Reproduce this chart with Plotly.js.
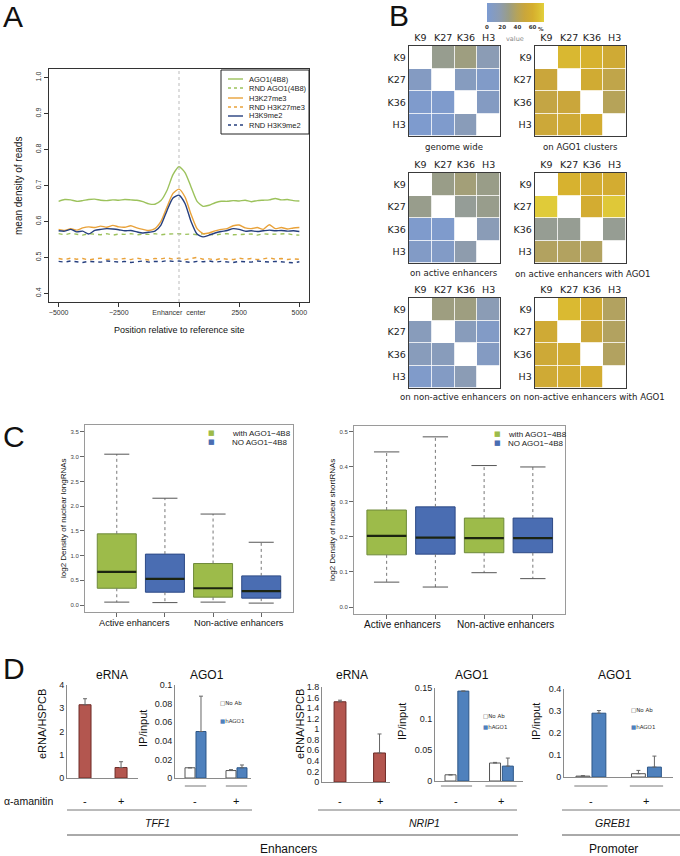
<!DOCTYPE html>
<html><head><meta charset="utf-8">
<script src="https://cdn.plot.ly/plotly-3.0.1.min.js"></script>
<style>html,body{margin:0;padding:0;background:#fff}#chart{width:680px;height:856px}</style>
</head><body><div id="chart"></div>
<script>
// ---------------- DATA ----------------
// Panel A : mean density of reads around enhancer centre
const posA=[-5000,-4750,-4500,-4250,-4000,-3750,-3500,-3250,-3000,-2750,-2500,-2250,-2000,-1750,-1500,-1250,-1000,-750,-500,-250,0,250,500,750,1000,1250,1500,1750,2000,2250,2500,2750,3000,3250,3500,3750,4000,4250,4500,4750,5000];
const ago1=[0.656,0.661,0.660,0.656,0.658,0.661,0.662,0.659,0.658,0.660,0.659,0.661,0.660,0.659,0.655,0.649,0.648,0.658,0.686,0.730,0.752,0.736,0.696,0.656,0.642,0.645,0.652,0.656,0.656,0.658,0.657,0.659,0.655,0.658,0.659,0.660,0.664,0.660,0.661,0.658,0.657];
const rndAgo1=[0.566,0.563,0.567,0.565,0.562,0.566,0.564,0.563,0.566,0.562,0.565,0.564,0.566,0.563,0.565,0.564,0.566,0.563,0.565,0.566,0.566,0.564,0.565,0.563,0.566,0.564,0.562,0.565,0.566,0.563,0.564,0.566,0.565,0.562,0.566,0.564,0.565,0.567,0.566,0.563,0.562];
const h3k27=[0.578,0.575,0.580,0.576,0.582,0.585,0.583,0.587,0.584,0.589,0.585,0.584,0.588,0.582,0.578,0.575,0.580,0.600,0.640,0.678,0.690,0.668,0.620,0.580,0.566,0.568,0.574,0.578,0.580,0.588,0.590,0.582,0.580,0.583,0.578,0.591,0.580,0.583,0.579,0.582,0.583];
const rndK27=[0.497,0.494,0.498,0.495,0.497,0.493,0.496,0.498,0.494,0.496,0.495,0.497,0.494,0.498,0.495,0.493,0.497,0.496,0.499,0.495,0.498,0.494,0.497,0.500,0.495,0.496,0.493,0.497,0.495,0.494,0.498,0.495,0.497,0.494,0.496,0.499,0.495,0.497,0.494,0.496,0.495];
const h3k9=[0.574,0.573,0.578,0.571,0.573,0.565,0.575,0.578,0.580,0.579,0.577,0.574,0.575,0.571,0.568,0.570,0.573,0.590,0.630,0.665,0.673,0.650,0.600,0.565,0.557,0.562,0.568,0.572,0.575,0.580,0.578,0.573,0.574,0.572,0.574,0.576,0.574,0.575,0.573,0.574,0.572];
const rndK9=[0.489,0.487,0.490,0.488,0.486,0.489,0.488,0.487,0.490,0.488,0.487,0.489,0.486,0.488,0.490,0.487,0.489,0.488,0.491,0.489,0.490,0.488,0.486,0.489,0.488,0.490,0.487,0.489,0.488,0.486,0.489,0.488,0.487,0.490,0.488,0.487,0.489,0.488,0.487,0.485,0.488];
const legendA=['AGO1(4B8)','RND AGO1(4B8)','H3K27me3','RND H3K27me3','H3K9me2','RND H3K9me2'];
const xTicksA=[-5000,-2500,0,2500,5000];
const xTickTextA=['\u22125000','\u22122500','Enhancer  center','2500','5000'];
const yTicksA=[0.4,0.5,0.6,0.7,0.8,0.9,1.0];
const yTickTextA=['0.4','0.5','0.6','0.7','0.8','0.9','1.0'];

// Panel B : overlap (%) heatmaps, diagonal empty
const hmLabels=['K9','K27','K36','H3'];
const hmGenome=[[null,26,30,15],[8,null,10,5],[3,3,null,8],[2,3,13,null]];
const hmAgo1Clusters=[[null,65,62,55],[50,null,56,45],[47,50,null,40],[52,55,58,null]];
const hmActive=[[null,28,32,28],[27,null,24,27],[3,3,null,14],[6,6,18,null]];
const hmActiveAgo1=[[null,62,58,58],[73,null,58,72],[25,25,null,25],[38,38,38,null]];
const hmNonActive=[[null,30,30,15],[12,null,12,6],[12,12,null,8],[4,7,15,null]];
const hmNonActiveAgo1=[[null,66,58,38],[55,null,52,38],[53,56,null,38],[55,57,58,null]];
const hmTitles=['genome wide','on AGO1 clusters','on active enhancers','on active enhancers with AGO1','on non-active enhancers','on non-active enhancers with AGO1'];
const cbTicks=[0,20,40,60];

// Panel C : box statistics
const cPos=[1,2,3,4];
const cGroups=['Active enhancers','Non-active enhancers'];
const cLegend=['with AGO1\u22124B8','NO AGO1\u22124B8'];
const longLo=[0.06,0.05,0.06,0.04];
const longQ1=[0.34,0.26,0.16,0.14];
const longMed=[0.67,0.53,0.34,0.28];
const longQ3=[1.44,1.03,0.84,0.59];
const longHi=[3.05,2.16,1.84,1.27];
const shortLo=[0.071,0.057,0.098,0.081];
const shortQ1=[0.149,0.151,0.155,0.155];
const shortMed=[0.203,0.198,0.197,0.197];
const shortQ3=[0.277,0.286,0.254,0.254];
const shortHi=[0.443,0.486,0.404,0.400];

// Panel D : qPCR
const dGroups=['-','+'];
const tffERNA=[3.15,0.45], tffERNAerr=[0.26,0.25];
const tffNoAb=[0.011,0.008], tffNoAbErr=[0,0.001];
const tffHAGO1=[0.050,0.011], tffHAGO1Err=[0.038,0.003];
const nripERNA=[1.52,0.55], nripERNAerr=[0.03,0.36];
const nripNoAb=[0.010,0.029], nripNoAbErr=[0,0.001];
const nripHAGO1=[0.145,0.024], nripHAGO1Err=[0,0.013];
const grebNoAb=[0.004,0.015], grebNoAbErr=[0.002,0.015];
const grebHAGO1=[0.290,0.045], grebHAGO1Err=[0.012,0.050];
const dLegend=['No Ab','hAGO1'];

// ---------------- HELPERS ----------------
const W=680,H=856;
const px=x=>x/W, py=y=>1-y/H;
const dx=(a,b)=>[a/W,b/W], dy=(t,b)=>[1-b/H,1-t/H];
const SANS='Liberation Sans, Arial, Helvetica, sans-serif';
const DJ='DejaVu Sans, sans-serif';
const traces=[];
const layout={width:W,height:H,margin:{l:0,r:0,t:0,b:0},paper_bgcolor:'#fff',plot_bgcolor:'#fff',
  showlegend:false,barmode:'overlay',font:{family:SANS,color:'#222'},annotations:[],shapes:[]};
function ann(text,x,y,size,o={}){
  layout.annotations.push(Object.assign({text:text,x:px(x),y:py(y),xref:'paper',yref:'paper',showarrow:false,
    font:{family:o.family||SANS,size:size,color:o.color||'#111',style:o.style||'normal',weight:o.weight||'normal'},
    xanchor:o.xanchor||'center',yanchor:o.yanchor||'middle',textangle:o.angle||0,borderpad:0},o.extra||{}));
}
function seg(x0,y0,x1,y1,color,width,dash){
  layout.shapes.push({type:'line',xref:'paper',yref:'paper',x0:px(x0),y0:py(y0),x1:px(x1),y1:py(y1),line:{color:color,width:width,dash:dash||'solid'}});
}
const noGrid={showgrid:false,zeroline:false,fixedrange:true};

// ---------------- PANEL A ----------------
const cGreen='#9cc25c', cOrange='#e9a23a', cNavy='#263f7e';
const seriesA=[
  {y:rndAgo1,c:cGreen,d:'4px,4px'},{y:rndK27,c:cOrange,d:'4px,4px'},{y:rndK9,c:cNavy,d:'4px,4px'},
  {y:ago1,c:cGreen,d:'solid'},{y:h3k27,c:cOrange,d:'solid'},{y:h3k9,c:cNavy,d:'solid'}];
seriesA.forEach(s=>traces.push({type:'scatter',mode:'lines',x:posA,y:s.y,xaxis:'x',yaxis:'y',hoverinfo:'skip',
  line:{color:s.c,width:1.4,dash:s.d,shape:s.d==='solid'?'spline':'linear',smoothing:0.6}}));
layout.xaxis=Object.assign({domain:dx(49,309),anchor:'y',range:[-5400,5400],tickvals:xTicksA,ticktext:xTickTextA,
  ticks:'outside',ticklen:4,tickcolor:'#333',showline:true,mirror:true,linecolor:'#333',linewidth:1,
  tickfont:{size:7,color:'#333'}},noGrid);
layout.yaxis=Object.assign({domain:dy(69,302),anchor:'x',range:[0.376,1.024],tickvals:yTicksA,ticktext:yTickTextA,tickangle:-90,
  ticks:'outside',ticklen:4,tickcolor:'#333',showline:true,mirror:true,linecolor:'#333',linewidth:1,
  tickfont:{size:7,color:'#333'}},noGrid);
layout.shapes.push({type:'line',xref:'x',yref:'y domain',x0:0,x1:0,y0:0,y1:1,line:{color:'#bbb',width:1,dash:'dot'}});
ann('A',2,16,30,{xanchor:'left'});
ann('mean density of reads',18,186,10,{angle:-90});
ann('Position relative to reference site',179,330,9);
// legend A
layout.shapes.push({type:'rect',xref:'paper',yref:'paper',x0:px(221),x1:px(309),y0:py(134),y1:py(70),line:{color:'#222',width:1},fillcolor:'#fff'});
const legColA=[cGreen,cGreen,cOrange,cOrange,cNavy,cNavy];
const legYA=[79,88,98,107,116,125];
legendA.forEach((t,i)=>{
  seg(228,legYA[i],243,legYA[i],legColA[i],1.4,i%2?'3px,3px':'solid');
  ann(t,248,legYA[i],7.5,{xanchor:'left',color:'#222'});
});

// ---------------- PANEL B ----------------
const hmPos=[[409,46],[535,46],[409,173],[535,173],[409,298],[535,298]];
const hmTitlePos=[[454,147],[580,147],[454,273],[583,274],[453,397],[587,397]];
[hmGenome,hmAgo1Clusters,hmActive,hmActiveAgo1,hmNonActive,hmNonActiveAgo1].forEach((z,i)=>{
  const n=i+2, p=hmPos[i];
  traces.push({type:'heatmap',z:z,x:hmLabels,y:hmLabels,coloraxis:'coloraxis',xgap:0.8,ygap:0.8,
    xaxis:'x'+n,yaxis:'y'+n,hoverinfo:'skip'});
  const ax={showline:true,mirror:true,linecolor:'#3a3a3a',linewidth:1.3,ticks:'',
    tickfont:{family:DJ,size:9.5,color:'#222'}};
  layout['xaxis'+n]=Object.assign({domain:dx(p[0],p[0]+91),anchor:'y'+n,side:'top'},ax,noGrid);
  layout['yaxis'+n]=Object.assign({domain:dy(p[1],p[1]+90),anchor:'x'+n,autorange:'reversed'},ax,noGrid);
  ann(hmTitles[i],hmTitlePos[i][0],hmTitlePos[i][1],8.6,{family:DJ,color:'#222'});
});
layout.coloraxis={cmin:0,cmax:75,
  colorscale:[[0,'#7c9bd2'],[0.22,'#8c9cb2'],[0.38,'#9a9d86'],[0.52,'#b4a35c'],[0.66,'#c9a63c'],[0.8,'#d5ae2e'],[0.9,'#dbbd32'],[1,'#e2d03c']],
  colorbar:{orientation:'h',x:px(515.5),xanchor:'center',y:py(3),yanchor:'top',len:57,lenmode:'pixels',
    thickness:19,thicknessmode:'pixels',outlinewidth:0,tickvals:cbTicks,ticks:'',xpad:0,ypad:0,
    tickfont:{family:DJ,size:5.5,color:'#333',weight:'bold'}}};
ann('%',541,29,5.5,{family:DJ,weight:'bold',color:'#333'});
ann('value',515,39,6.5,{family:DJ,color:'#888'});
ann('B',388,15,30,{xanchor:'left'});

// ---------------- PANEL C ----------------
const cFill=['#9dbb4a','#4a6db2','#9dbb4a','#4a6db2'];
const cEdge=['#6e8a3a','#2e4a86','#6e8a3a','#2e4a86'];
function boxSet(xa,ya,lo,q1,med,q3,hi){
  traces.push({type:'bar',x:cPos,y:q3.map((v,i)=>v-q1[i]),base:q1,width:0.81,xaxis:xa,yaxis:ya,hoverinfo:'skip',
    marker:{color:cFill,line:{color:cEdge,width:1}}});
  const wx=[],wy=[],kx=[],ky=[],mx=[],my=[];
  cPos.forEach((p,i)=>{
    wx.push(p,p,null,p,p,null); wy.push(q3[i],hi[i],null,q1[i],lo[i],null);
    kx.push(p-0.26,p+0.26,null,p-0.26,p+0.26,null); ky.push(hi[i],hi[i],null,lo[i],lo[i],null);
    mx.push(p-0.405,p+0.405,null); my.push(med[i],med[i],null);
  });
  traces.push({type:'scatter',mode:'lines',x:wx,y:wy,xaxis:xa,yaxis:ya,hoverinfo:'skip',line:{color:'#777',width:1,dash:'dot'}});
  traces.push({type:'scatter',mode:'lines',x:kx,y:ky,xaxis:xa,yaxis:ya,hoverinfo:'skip',line:{color:'#555',width:1}});
  traces.push({type:'scatter',mode:'lines',x:mx,y:my,xaxis:xa,yaxis:ya,hoverinfo:'skip',line:{color:'#1c2410',width:2.2}});
}
boxSet('x8','y8',longLo,longQ1,longMed,longQ3,longHi);
boxSet('x9','y9',shortLo,shortQ1,shortMed,shortQ3,shortHi);
const cAx={ticks:'outside',ticklen:4,tickcolor:'#666',showline:true,mirror:true,linecolor:'#9a9a9a',linewidth:1,
  tickfont:{size:6,color:'#444'}};
layout.xaxis8=Object.assign({domain:dx(85,293),anchor:'y8',range:[0.34,4.66],tickvals:cPos,ticktext:['','','',''],showticklabels:false},cAx,noGrid);
layout.yaxis8=Object.assign({domain:dy(425,612),anchor:'x8',range:[-0.14,3.64],tickvals:[0,0.5,1,1.5,2,2.5,3,3.5],tickformat:'.1f'},cAx,noGrid);
layout.xaxis9=Object.assign({domain:dx(354,565),anchor:'y9',range:[0.33,4.66],tickvals:cPos,ticktext:['','','',''],showticklabels:false},cAx,noGrid);
layout.yaxis9=Object.assign({domain:dy(426,614),anchor:'x9',range:[-0.02,0.517],tickvals:[0,0.1,0.2,0.3,0.4,0.5],tickformat:'.1f'},cAx,noGrid);
ann(cGroups[0],134,623,9.2); ann(cGroups[1],239,623,9.2);
ann(cGroups[0],402,624,10); ann(cGroups[1],505,624,10);
ann('log2 Density of nuclear longRNAs',63,518,8,{angle:-90});
ann('log2 Density of nuclear shortRNAs',332,520,8,{angle:-90});
// legends C
[[211,231,433],[498,507,434]].forEach(L=>{
  cLegend.forEach((t,i)=>{
    ann('<span style="color:'+cFill[i]+'">\u25A0</span>',L[0],L[2]+i*9,7,{family:DJ});
    ann(t,L[1],L[2]+i*9,8,{xanchor:'left',color:'#222'});
  });
});
ann('C',2,436,30,{xanchor:'left'});

// ---------------- PANEL D ----------------
const dX=dGroups.map((g,i)=>i+1);
const red='#b3564f', redE='#6d2a26', blue='#4f81bd', blueE='#2c5687';
function errY(a){return {type:'data',symmetric:false,array:a,arrayminus:a.map(()=>0),color:'#666',thickness:1,width:2};}
function dBar(xa,ya,y,err,color,edge,w,off){
  const t={type:'bar',x:dX,y:y,width:w,xaxis:xa,yaxis:ya,hoverinfo:'skip',error_y:errY(err),
    marker:{color:color,line:{color:edge,width:1}}};
  if(off!==undefined) t.offset=off;
  traces.push(t);
}
dBar('x10','y10',tffERNA,tffERNAerr,red,redE,0.333);
dBar('x11','y11',tffNoAb,tffNoAbErr,'#fff','#555',0.244,-0.256);
dBar('x11','y11',tffHAGO1,tffHAGO1Err,blue,blueE,0.244,0.012);
dBar('x12','y12',nripERNA,nripERNAerr,red,redE,0.30);
dBar('x13','y13',nripNoAb,nripNoAbErr,'#fff','#555',0.247,-0.258);
dBar('x13','y13',nripHAGO1,nripHAGO1Err,blue,blueE,0.247,0.03);
dBar('x14','y14',grebNoAb,grebNoAbErr,'#fff','#555',0.25,-0.27);
dBar('x14','y14',grebHAGO1,grebHAGO1Err,blue,blueE,0.25,0.018);
const dXAx={showline:true,linecolor:'#8a8a8a',linewidth:1,showticklabels:false,ticks:''};
const dYAx={showline:true,linecolor:'#8a8a8a',linewidth:1,ticks:'',tickfont:{size:9,color:'#222'}};
const dSpec=[
  [10,67,138,685,778,[0.5,2.47],[0,4],1],
  [11,175,251,685,778,[0.5,2.354],[0,0.1],0.02],
  [12,322,390,687,782,[0.544,2.265],[0,1.8],0.2],
  [13,435,523,688,781,[0.517,2.494],[0,0.15],0.05],
  [14,564,673,689,777,[0.514,2.478],[0,0.4],0.1]];
dSpec.forEach(s=>{
  const n=s[0];
  layout['xaxis'+n]=Object.assign({domain:dx(s[1],s[2]),anchor:'y'+n,range:s[5]},dXAx,noGrid);
  layout['yaxis'+n]=Object.assign({domain:dy(s[3],s[4]),anchor:'x'+n,range:s[6],dtick:s[7],tick0:0},dYAx,noGrid);
  dX.forEach((x,i)=>layout.annotations.push({text:dGroups[i]==='-'?'-':'+',x:x,y:py(801),xref:'x'+n,yref:'paper',
    showarrow:false,font:{family:SANS,size:11,color:'#111'},xanchor:'center',yanchor:'middle'}));
});
// group underlines in AGO1 charts
[[11,0.26],[13,0.35],[14,0.3]].forEach(g=>{
  dX.forEach(x=>layout.shapes.push({type:'line',xref:'x'+g[0],yref:'paper',x0:x-g[1],x1:x+g[1],y0:py(786),y1:py(786),line:{color:'#777',width:1}}));
});
// titles & labels
ann('eRNA',112,675,12); ann('AGO1',207,675,12); ann('eRNA',352,675,12); ann('AGO1',472,675,12); ann('AGO1',615,675,12);
ann('eRNA/HSPCB',42,724,11,{angle:-90}); ann('IP/input',143,729,11,{angle:-90});
ann('eRNA/HSPCB',300,724,11,{angle:-90}); ann('IP/input',402,722,11,{angle:-90}); ann('IP/input',536,722,11,{angle:-90});
// D legends
[[219,703,721],[482,716,727],[630,710,727]].forEach(L=>{
  ann('<span style="color:#555">\u25A1</span>'+dLegend[0],L[0],L[1],5.5,{xanchor:'left',family:DJ,color:'#333'});
  ann('<span style="color:'+blue+'">\u25A0</span>'+dLegend[1],L[0],L[2],5.5,{xanchor:'left',family:DJ,color:'#333'});
});
ann('\u03B1-amanitin',3,801,10.5,{xanchor:'left'});
seg(67,810,252,810,'#777',1); seg(318,810,517,810,'#777',1); seg(562,810,680,810,'#777',1);
ann('TFF1',157,823,10.5,{style:'italic'}); ann('NRIP1',424,823,10.5,{style:'italic'}); ann('GREB1',613,823,10.5,{style:'italic'});
seg(67,835,518,835,'#555',1); seg(562,835,680,835,'#555',1);
ann('Enhancers',288,849,12); ann('Promoter',613,849,12);
ann('D',2,668,30,{xanchor:'left'});

Plotly.newPlot('chart',traces,layout,{staticPlot:true,displayModeBar:false});
</script></body></html>
